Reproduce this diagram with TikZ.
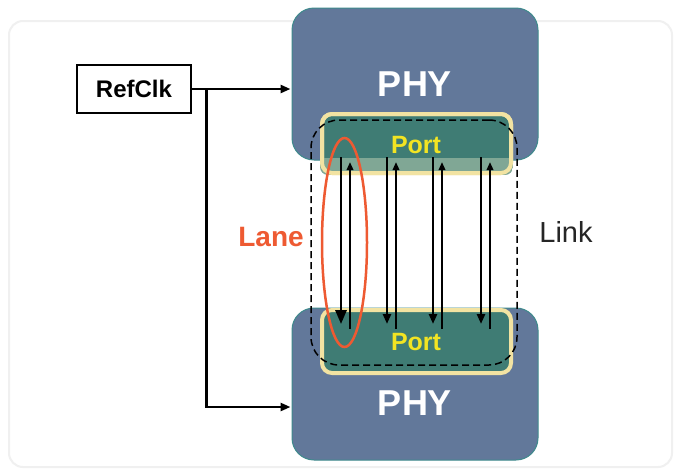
\documentclass[tikz,border=0pt]{standalone}
\usepackage{fontspec}
\setmainfont{Liberation Sans}
\usetikzlibrary{positioning,arrows.meta,calc,shapes.geometric}
\definecolor{phyblue}{HTML}{62789A}
\definecolor{phyedge}{HTML}{3E8A8C}
\definecolor{portgreen}{HTML}{3F7C74}
\definecolor{portband}{HTML}{80A795}
\definecolor{portedge}{HTML}{F2E3A2}
\definecolor{porttext}{HTML}{F2E423}
\definecolor{lanered}{HTML}{EE5A32}

\begin{document}
\begin{tikzpicture}[x=1pt, y=-1pt,
    phy/.style={fill=phyblue, draw=phyedge, line width=1pt, rounded corners=22pt,
      minimum width=246pt, minimum height=152pt},
    port/.style={fill=portgreen, draw=portedge, line width=4pt, rounded corners=10pt,
      minimum width=189pt},
    txt/.style={font=\fontsize{#1}{#1}\selectfont\bfseries, inner sep=0pt},
    sig/.style={line width=2.5pt, -{Triangle[length=#1pt, width=0.8*#1pt]}},
    sig/.default=10]
      % Card
      \fill[white] (0,0) rectangle (682,469);
      \draw[draw=black!6, line width=2pt, fill=white, rounded corners=14pt] (9,21) rectangle (672,467);
      % Define nodes
      \node[draw, line width=2.5pt, minimum width=114pt, minimum height=48pt, txt=24] (refclk) at (134,89) {RefClk};
      \node[phy] (phyTop) at (415,84) {};
      \node[phy] (phyBot) at (415,384) {};
      \node[txt=36, white] (phyTopTxt) at (415,84) {PHY};
      \node[txt=36, white] (phyBotTxt) at (415,403) {PHY};
      \node[port, minimum height=59pt] (portTop) at (416.5,143.5) {};
      \begin{scope}
        \clip[rounded corners=8pt] (portTop.south west) rectangle (portTop.north east);
        \fill[portband] (portTop.south west) rectangle ($(portTop.south east)+(0,-17)$);
      \end{scope}
      \node[port, fill=none, minimum height=59pt] at (portTop) {};
      \node[port, minimum height=63pt] (portBot) at (416.5,341.5) {};
      \node[txt=25, porttext] (portTopTxt) at (416,145) {Port};
      \node[txt=25, porttext] (portBotTxt) at (416,342) {Port};
      \node[draw, dashed, line width=1.5pt, dash pattern=on 7pt off 4pt, rounded corners=28pt,
        minimum width=206pt, minimum height=245pt] (link) at (414,242.5) {};
      \node[txt=28, lanered] (laneTxt) at (271,237) {Lane};
      \node[font=\fontsize{29}{29}\selectfont, inner sep=0pt, black!85] (linkTxt) at (566,232) {Link};
      % Lanes
      \foreach \x/\tip [count=\i] in {341/14,387/10,433/10,481/10} {
        \coordinate (dn\i) at (\x,157);
        \coordinate (dnEnd\i) at (\x,324);
        \coordinate (up\i) at (\x+9,329);
        \coordinate (upEnd\i) at (\x+9,162);
        \draw[sig=\tip] (dn\i) -- (dnEnd\i);
        \draw[sig=8] (up\i) -- (upEnd\i);
      }
      \node[draw=lanered, ellipse, line width=2.5pt, minimum width=45pt, minimum height=209pt] (lane) at (344.5,242.5) {};
      % Clock
      \coordinate[right=14pt of refclk.east] (branch);
      \draw[sig] (refclk.east) -- ($(refclk.east -| phyTop.west)+(-1,0)$);
      \draw[line width=2.5pt] (refclk.east) -- (branch);
      \draw[sig] (branch) |- ($(phyBotTxt -| phyBot.west)+(-1,4)$);
\end{tikzpicture}
\end{document}
